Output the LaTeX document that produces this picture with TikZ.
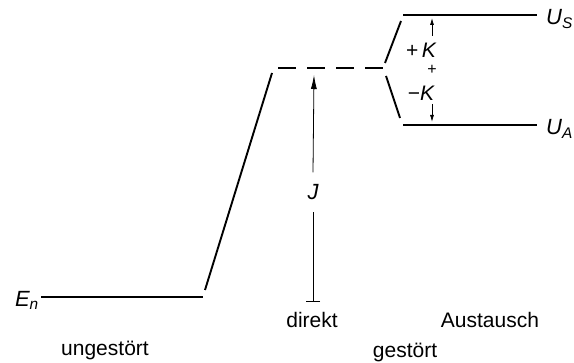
\documentclass[tikz,border=0pt]{standalone}
\usepackage{fontspec}
\setmainfont{Liberation Sans}
\usetikzlibrary{arrows.meta}
\begin{document}
\begin{tikzpicture}[x=1pt,y=-1pt,
  level/.style={line width=1.9pt},
  lbl/.style={font=\fontsize{21}{24}\selectfont, inner sep=0pt},
  ilbl/.style={font=\fontsize{22}{24}\selectfont\itshape, inner sep=0pt},
  thin arrow/.style={line width=0.8pt}]
\useasboundingbox (0,0) rectangle (574,363);
% coordinates
\coordinate (en1) at (41,297);
\coordinate (en2) at (203,297);
\coordinate (s1) at (205,290);
\coordinate (s2) at (272,73);
\coordinate (d1) at (278,68);
\coordinate (d2) at (383,68);
\coordinate (u1) at (385,63);
\coordinate (u2) at (401,21);
\coordinate (us1) at (403,15);
\coordinate (us2) at (537,15);
\coordinate (l1) at (386,76);
\coordinate (l2) at (400,118);
\coordinate (ua1) at (403,125);
\coordinate (ua2) at (537,125);
% levels
\draw[level] (en1) -- (en2);
\draw[level] (s1) -- (s2);
\draw[level, dash pattern=on 18pt off 11pt] (d1) -- (d2);
\draw[level] (u1) -- (u2);
\draw[level] (us1) -- (us2);
\draw[level] (l1) -- (l2);
\draw[level] (ua1) -- (ua2);
% labels
\node[ilbl, anchor=east] (En) at (39,300) {E\textsubscript{\itshape n}};
\node[ilbl, anchor=west] (US) at (546,19) {U\textsubscript{\itshape S}};
\node[ilbl, anchor=west] (UA) at (546,129) {U\textsubscript{\itshape A}};
% J arrow
\node[ilbl, outer sep=12pt] (J) at (313,192) {J};
\coordinate (jb) at (313,302);
\coordinate (jt) at (314,75);
\draw[thin arrow, {Bar[width=14pt]}-] (jb) -- (J.south);
\draw[thin arrow, -{Latex[length=14pt,width=6pt]}] (J.north) -- (jt);
% K arrows
\node[ilbl, font=\fontsize{21}{24}\selectfont] (pK) at (421,50) {\upshape +\,\itshape K};
\node[ilbl, font=\fontsize{21}{24}\selectfont] (mK) at (421,93) {\upshape −\itshape K};
\node[inner sep=0pt, font=\fontsize{16}{18}\selectfont] (pm) at (432,70) {+};
\coordinate (ka) at (432,18);
\coordinate (kb) at (432,122);
\draw[thin arrow, -{Latex[length=7pt,width=4pt]}] (432,36) -- (ka);
\draw[thin arrow, -{Latex[length=7pt,width=4pt]}] (432,104) -- (kb);
% bottom labels
\node[lbl] (direkt) at (312,320) {direkt};
\node[lbl] (ungestoert) at (105,350) {ungestört};
\node[lbl] (gestoert) at (405,352) {gestört};
\node[lbl] (austausch) at (490,320) {Austausch};
\end{tikzpicture}
\end{document}
